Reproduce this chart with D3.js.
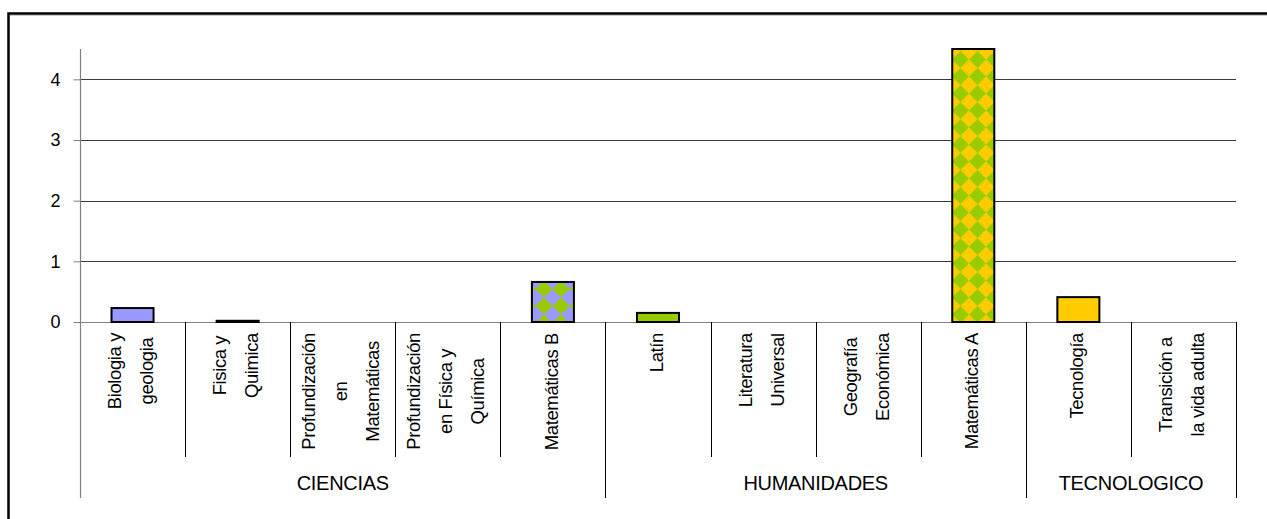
<!DOCTYPE html>
<html>
<head>
<meta charset="utf-8">
<script src="https://cdn.jsdelivr.net/npm/d3@7"></script>
<style>
  html, body { margin: 0; padding: 0; background: #fff; }
  svg { display: block; }
  text { font-family: "Liberation Sans", Arial, sans-serif; fill: #000; }
</style>
</head>
<body>
<svg id="chart" width="1267" height="519"></svg>
<script>
// ---- data ----
const categories = [
  ["Biologia y", "geologia"],
  ["Fisica y", "Quimica"],
  ["Profundización", "en", "Matemáticas"],
  ["Profundización", "en Física y", "Química"],
  ["Matemáticas B"],
  ["Latín"],
  ["Literatura", "Universal"],
  ["Geografía", "Económica"],
  ["Matemáticas A"],
  ["Tecnología"],
  ["Transición a", "la vida adulta"]
];
const values = [0.23, 0.02, 0, 0, 0.66, 0.15, 0, 0, 4.5, 0.41, 0];
const fills = ["#9999FF", "#9999FF", "#9999FF", "#9999FF", "url(#patB)", "#99CC00", "#99CC00", "#99CC00", "url(#patA)", "#FFCC00", "#FFCC00"];
const groups = ["CIENCIAS", "HUMANIDADES", "TECNOLOGICO"];
const groupSizes = [5, 4, 2];
const yTicks = [0, 1, 2, 3, 4];

(function () {
// ---- layout ----
const svg = d3.select("#chart");
const left = 80, right = 1236, plotTop = 49, base = 322;
const catBottom = 457, groupBottom = 498;

// outer frame
svg.append("rect").attr("x", 8.5).attr("y", 13.5).attr("width", 1400).attr("height", 700)
  .attr("fill", "none").attr("stroke", "#000").attr("stroke-width", 2.5);
svg.append("line").attr("x1", 10).attr("x2", 1267).attr("y1", 15.5).attr("y2", 15.5)
  .attr("stroke", "#c8c8c8").attr("stroke-width", 1);

// patterns
const defs = svg.append("defs");
function diamondPattern(id, bg, fg) {
  const p = defs.append("pattern").attr("id", id).attr("patternUnits", "userSpaceOnUse")
    .attr("width", 17).attr("height", 17);
  p.append("rect").attr("width", 17).attr("height", 17).attr("fill", bg);
  p.append("path").attr("d", "M8.5,0 L17,8.5 L8.5,17 L0,8.5 Z").attr("fill", fg);
}
diamondPattern("patB", "#99CC00", "#9999FF");
diamondPattern("patA", "#FFCC00", "#99CC00");

const x = d3.scaleBand().domain(d3.range(categories.length)).range([left, right]).padding(0);
const y = d3.scaleLinear().domain([0, 4.5]).range([base, plotTop]);

// gridlines
svg.append("g").selectAll("line").data(yTicks.filter(d => d > 0)).join("line")
  .attr("x1", left).attr("x2", right)
  .attr("y1", d => Math.round(y(d)) + 0.5).attr("y2", d => Math.round(y(d)) + 0.5)
  .attr("stroke", "#3a3a3a").attr("stroke-width", 1);

// y axis
const yAxis = svg.append("g").attr("transform", `translate(${left + 0.5},0)`)
  .call(d3.axisLeft(y).tickValues(yTicks).tickSize(7).tickPadding(13).tickFormat(d3.format("d")));
yAxis.attr("font-size", 18).attr("font-family", "\"Liberation Sans\", Arial, sans-serif");
yAxis.select(".domain").remove();
yAxis.selectAll(".tick line").attr("stroke", "#808080");
yAxis.selectAll(".tick text").attr("font-size", 18).attr("fill", "#000");
svg.append("line").attr("x1", left + 0.5).attr("x2", left + 0.5).attr("y1", plotTop).attr("y2", groupBottom)
  .attr("stroke", "#808080").attr("stroke-width", 1.2);

// category axis baseline
svg.append("line").attr("x1", left).attr("x2", right).attr("y1", base + 0.5).attr("y2", base + 0.5)
  .attr("stroke", "#808080").attr("stroke-width", 1.2);

// bars
const bw = x.bandwidth() * 0.4;
svg.append("g").selectAll("rect").data(values.map((v, i) => ({ v, i })).filter(d => d.v > 0)).join("rect")
  .attr("x", d => x(d.i) + (x.bandwidth() - bw) / 2)
  .attr("width", bw)
  .attr("y", d => y(d.v))
  .attr("height", d => base - y(d.v))
  .attr("fill", d => fills[d.i])
  .attr("stroke", "#000").attr("stroke-width", 2);

// category dividers
const groupEnds = [];
let acc = 0;
groupSizes.forEach(s => { acc += s; groupEnds.push(acc); });
const dividers = d3.range(1, categories.length + 1);
svg.append("g").selectAll("line").data(dividers).join("line")
  .attr("x1", i => Math.round(x(i - 1) + x.bandwidth()) + 0.5)
  .attr("x2", i => Math.round(x(i - 1) + x.bandwidth()) + 0.5)
  .attr("y1", base)
  .attr("y2", i => groupEnds.includes(i) ? groupBottom : catBottom)
  .attr("stroke", "#000").attr("stroke-width", 1);

// category labels (rotated)
const catFont = 18.5, lineGap = 32, labelTop = 333;
categories.forEach((lines, i) => {
  const cx = x(i) + x.bandwidth() / 2 - 2;
  const g = svg.append("g");
  const texts = lines.map(ln => g.append("text").attr("font-size", catFont).attr("letter-spacing", -0.4).text(ln));
  const maxLen = d3.max(texts, t => t.node().getComputedTextLength());
  const n = lines.length;
  texts.forEach((t, k) => {
    const lc = cx + (k - (n - 1) / 2) * lineGap;
    const bx = lc + catFont * 0.36;
    const cy = labelTop + maxLen / 2;
    t.attr("text-anchor", "middle")
     .attr("transform", `translate(${bx},${cy}) rotate(-90)`);
  });
});

// group labels
let start = 0;
groups.forEach((gname, gi) => {
  const end = start + groupSizes[gi];
  const cx = (x(start) + x(end - 1) + x.bandwidth()) / 2;
  svg.append("text").attr("x", cx).attr("y", 490).attr("text-anchor", "middle")
    .attr("font-size", 20).attr("letter-spacing", -0.3).text(gname);
  start = end;
});
})();
</script>
</body>
</html>
